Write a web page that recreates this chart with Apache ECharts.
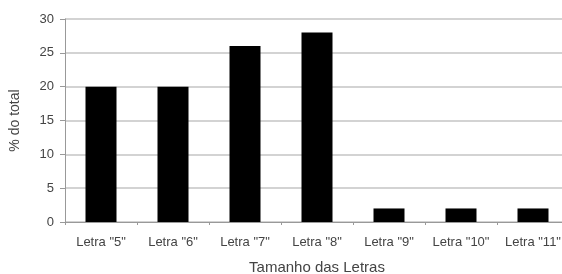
<!DOCTYPE html>
<html>
<head>
<meta charset="utf-8">
<script src="https://cdn.jsdelivr.net/npm/echarts@6/dist/echarts.min.js"></script>
<style>
  html, body { margin: 0; padding: 0; background: #fff; }
  #chart { width: 562px; height: 274px; }
</style>
</head>
<body>
<div id="chart"></div>
<script>
var categorias = ['Letra "5"', 'Letra "6"', 'Letra "7"', 'Letra "8"', 'Letra "9"', 'Letra "10"', 'Letra "11"'];
var percentuais = [20, 20, 26, 28, 2, 2, 2];
var yTicks = [0, 5, 10, 15, 20, 25, 30];

var chart = echarts.init(document.getElementById('chart'));

var option = {
  animation: false,
  textStyle: { fontFamily: 'Liberation Sans, Arial, sans-serif' },
  grid: { left: 65, top: 19, width: 504, height: 203, outerBoundsMode: 'none', containLabel: false },
  xAxis: {
    type: 'category',
    data: categorias,
    name: 'Tamanho das Letras',
    nameLocation: 'middle',
    nameGap: 38,
    nameTextStyle: { color: '#444', fontSize: 15 },
    axisLine: { lineStyle: { color: '#999', width: 1 } },
    axisTick: { show: true, length: 3, lineStyle: { color: '#999' } },
    axisLabel: { color: '#444', fontSize: 13, margin: 14, interval: 0 }
  },
  yAxis: {
    type: 'value',
    min: yTicks[0],
    max: yTicks[yTicks.length - 1],
    interval: 5,
    name: '% do total',
    nameLocation: 'middle',
    nameGap: 43,
    nameTextStyle: { color: '#444', fontSize: 14 },
    axisLine: { show: true, lineStyle: { color: '#999', width: 1 } },
    axisTick: { show: true, length: 5, lineStyle: { color: '#999' } },
    axisLabel: { color: '#444', fontSize: 13, margin: 11 },
    splitLine: { lineStyle: { color: '#c4c4c4', width: 1.5 } }
  },
  series: [{
    type: 'bar',
    data: percentuais,
    barWidth: 31,
    itemStyle: { color: '#000' }
  }]
};

chart.setOption(option);
</script>
</body>
</html>
